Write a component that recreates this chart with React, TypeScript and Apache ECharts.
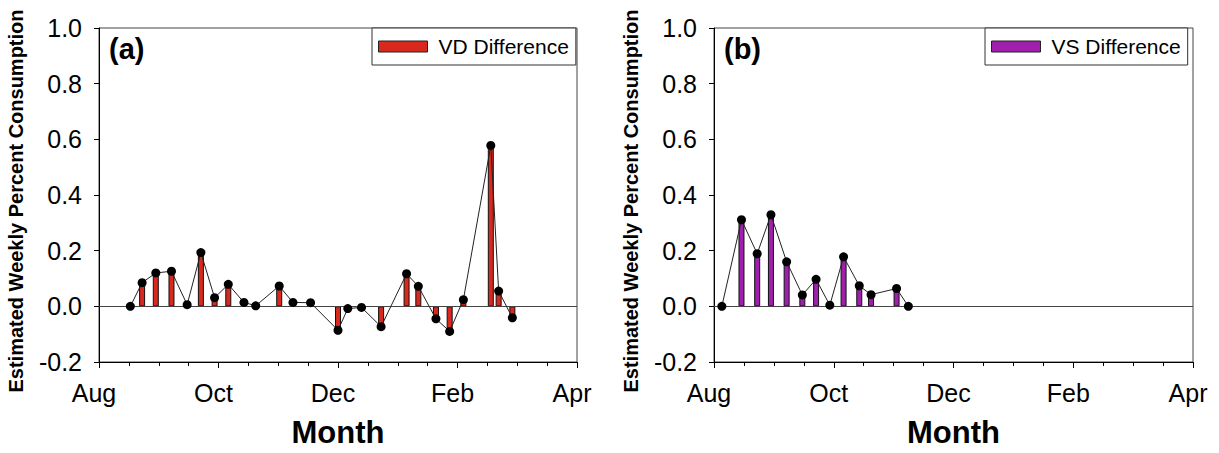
import React, { useEffect, useRef } from "react";
import * as echarts from "echarts";

const FONT = '"Liberation Sans", Arial, Helvetica, sans-serif';

// x = days since Aug 1 (axis ticks every 61 days: Aug, Oct, Dec, Feb, Apr)
const MONTH_LABELS = ["Aug", "Oct", "Dec", "Feb", "Apr"];
const X_STEP = 61;

const vdDays = [16, 22, 29, 37, 45, 52, 59, 66, 74, 80, 92, 99, 108, 122, 127, 134, 144, 157, 163, 172, 179, 186, 200, 204, 211];
const vdValues = [0.0, 0.085, 0.12, 0.126, 0.006, 0.193, 0.031, 0.079, 0.014, 0.002, 0.073, 0.014, 0.013, -0.086, -0.008, -0.004, -0.073, 0.117, 0.072, -0.045, -0.09, 0.024, 0.578, 0.055, -0.041];

const vsDays = [4, 14, 22, 29, 37, 45, 52, 59, 66, 74, 80, 93, 99];
const vsValues = [0.0, 0.311, 0.189, 0.329, 0.16, 0.041, 0.097, 0.004, 0.178, 0.074, 0.042, 0.064, 0.0];

const VD_NAME = "VD Difference";
const VS_NAME = "VS Difference";
const VD_COLOR = "#d9281e";
const VS_COLOR = "#a11fae";

const GRIDS = [
  { left: 99, top: 28, width: 478, height: 334 },
  { left: 714, top: 28, width: 479, height: 334 },
];

function pairs(days: number[], vals: number[]) {
  return days.map((d, i) => [d, vals[i]]);
}
function barPairs(days: number[], vals: number[]) {
  return days.map((d, i) => [d, vals[i]]).filter((p) => p[1] !== 0);
}

function xAxisCfg(gridIndex: number) {
  return {
    type: "value",
    gridIndex,
    min: 0,
    max: X_STEP * 4,
    interval: X_STEP,
    name: "Month",
    nameLocation: "middle",
    nameGap: 55,
    nameTextStyle: { fontFamily: FONT, fontSize: 31, fontWeight: "bold", color: "#000" },
    axisLine: { show: true, onZero: false, lineStyle: { color: "#000", width: 1 } },
    axisTick: { show: true, inside: false, length: 6, lineStyle: { color: "#000" } },
    minorTick: { show: true, splitNumber: 4, length: 4, lineStyle: { color: "#000" } },
    splitLine: { show: false },
    minorSplitLine: { show: false },
    axisLabel: {
      fontFamily: FONT,
      fontSize: 25,
      color: "#000",
      margin: 18,
      padding: [0, 10, 0, 0],
      formatter: (v: number) => MONTH_LABELS[Math.round(v / X_STEP)] ?? "",
    },
  };
}

function yAxisCfg(gridIndex: number) {
  return {
    type: "value",
    gridIndex,
    min: -0.2,
    max: 1.0,
    interval: 0.2,
    name: "Estimated Weekly Percent Consumption",
    nameLocation: "middle",
    nameGap: 73,
    nameTextStyle: { fontFamily: FONT, fontSize: 20, fontWeight: "bold", color: "#000", padding: [0, 12, 0, 0] },
    axisLine: { show: true, onZero: false, lineStyle: { color: "#000", width: 1 } },
    axisTick: { show: true, inside: false, length: 5, lineStyle: { color: "#000" } },
    splitLine: { show: false },
    axisLabel: {
      fontFamily: FONT,
      fontSize: 25,
      color: "#000",
      margin: 17,
      formatter: (v: number) => v.toFixed(1),
    },
  };
}

function barSeries(name: string, color: string, idx: number, data: number[][]) {
  return {
    name,
    type: "bar",
    xAxisIndex: idx,
    yAxisIndex: idx,
    data,
    barWidth: 6,
    itemStyle: { color, borderColor: "#111", borderWidth: 1 },
    z: 2,
    markLine: {
      silent: true,
      symbol: "none",
      label: { show: false },
      lineStyle: { color: "#444", width: 1, type: "solid" },
      data: [{ yAxis: 0 }],
    },
  };
}

function lineSeries(name: string, idx: number, data: number[][]) {
  return {
    name,
    type: "line",
    xAxisIndex: idx,
    yAxisIndex: idx,
    data,
    symbol: "circle",
    symbolSize: 9,
    itemStyle: { color: "#000" },
    lineStyle: { color: "#222", width: 1 },
    z: 5,
  };
}

function legendCfg(name: string, left: number) {
  return {
    data: [name],
    left,
    top: 28,
    orient: "horizontal",
    icon: "rect",
    itemWidth: 49,
    itemHeight: 11,
    padding: [8, 7, 8, 6],
    backgroundColor: "#fff",
    borderColor: "#333",
    borderWidth: 1,
    borderRadius: 0,
    selectedMode: false,
    itemStyle: { borderColor: "#222", borderWidth: 1 },
    textStyle: { fontFamily: FONT, fontSize: 21, color: "#000", padding: [0, 0, 0, 6] },
  };
}

export default function App() {
  const ref = useRef<HTMLDivElement>(null);

  useEffect(() => {
    document.body.style.margin = "0";
    if (!ref.current) return;
    const chart = echarts.init(ref.current, undefined, { renderer: "svg" });
    const option = {
      animation: false,
      backgroundColor: "#fff",
      grid: GRIDS.map((g) => ({ ...g, show: true, borderColor: "#444", borderWidth: 1, backgroundColor: "transparent", containLabel: false })),
      xAxis: [xAxisCfg(0), xAxisCfg(1)],
      yAxis: [yAxisCfg(0), yAxisCfg(1)],
      legend: [legendCfg(VD_NAME, 372), legendCfg(VS_NAME, 985)],
      graphic: [
        {
          type: "text",
          left: 109,
          top: 34,
          style: { text: "(a)", fontFamily: FONT, fontSize: 29, fontWeight: "bold", fill: "#000" },
        },
        {
          type: "text",
          left: 724,
          top: 34,
          style: { text: "(b)", fontFamily: FONT, fontSize: 29, fontWeight: "bold", fill: "#000" },
        },
      ],
      series: [
        barSeries(VD_NAME, VD_COLOR, 0, barPairs(vdDays, vdValues)),
        lineSeries("VD points", 0, pairs(vdDays, vdValues)),
        barSeries(VS_NAME, VS_COLOR, 1, barPairs(vsDays, vsValues)),
        lineSeries("VS points", 1, pairs(vsDays, vsValues)),
      ],
    };
    chart.setOption(option as any);
    return () => chart.dispose();
  }, []);

  return <div ref={ref} style={{ width: 1219, height: 453 }} />;
}
